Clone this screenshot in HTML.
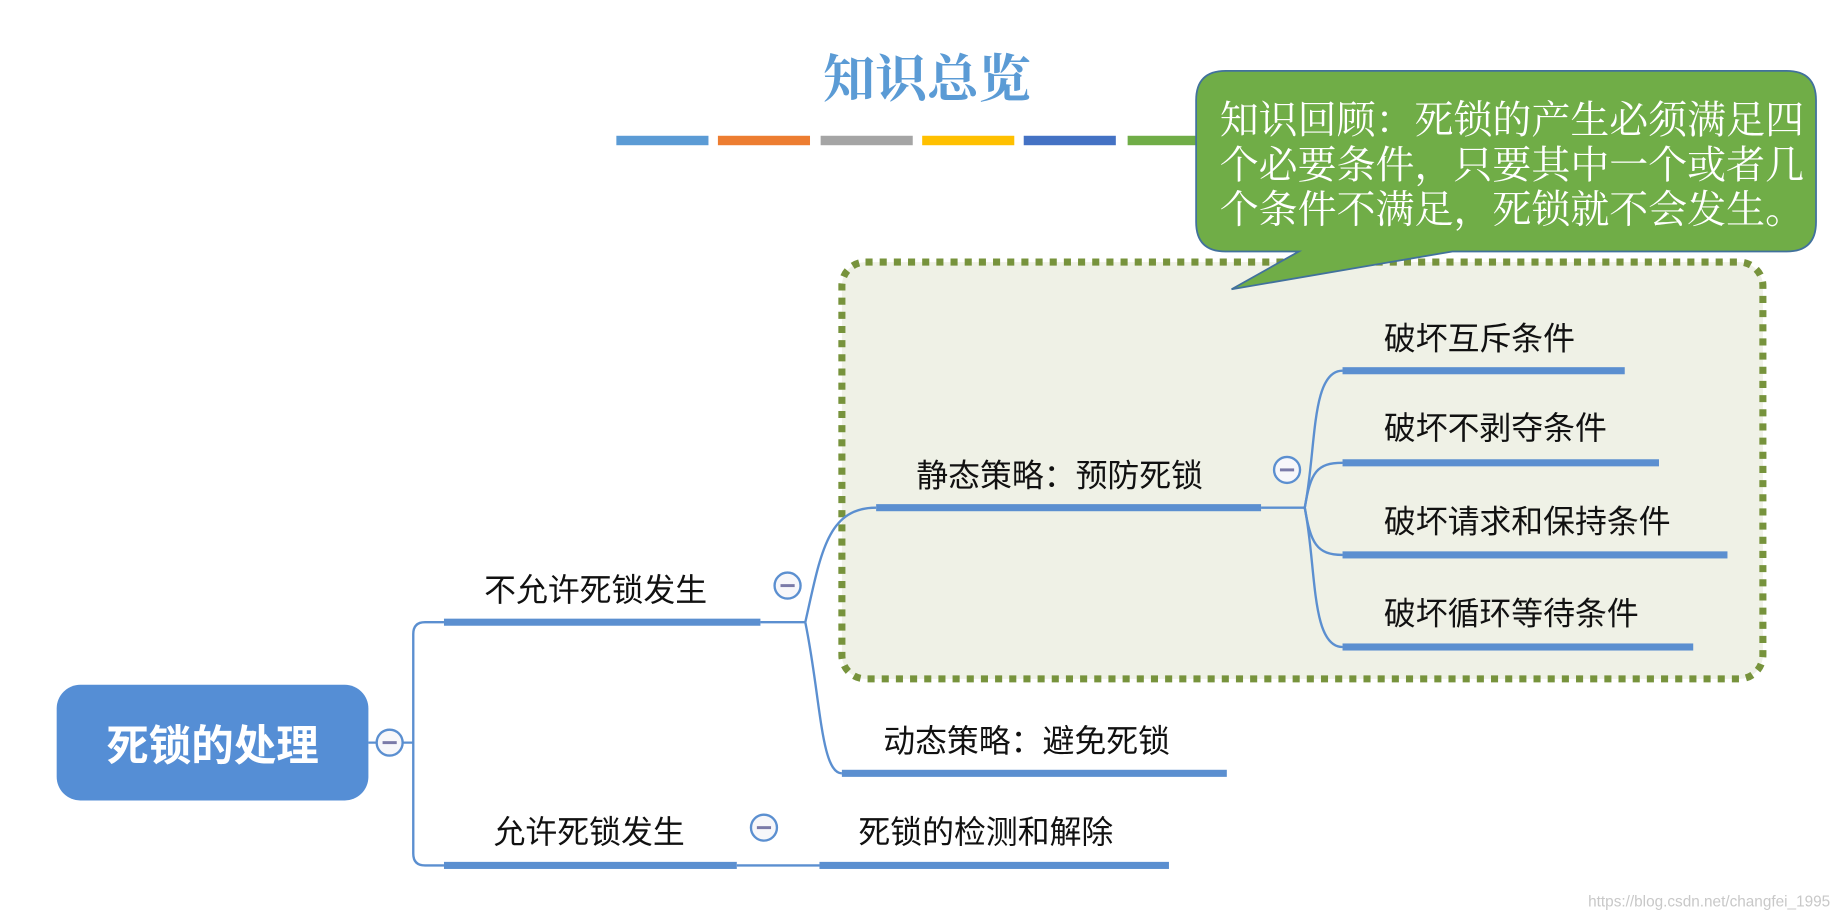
<!DOCTYPE html>
<html><head><meta charset="utf-8"><style>
html,body{margin:0;padding:0;background:#fff;width:1842px;height:915px;overflow:hidden}
svg{display:block}
.t{font-family:"Liberation Sans","Noto Sans CJK SC",sans-serif;font-size:27px;fill:#111}
.s{font-family:"Liberation Serif","Noto Serif CJK SC",serif}
</style></head><body>
<svg width="1842" height="915" viewBox="0 0 1560 775" preserveAspectRatio="none" xmlns="http://www.w3.org/2000/svg">
<text x="785" y="82" text-anchor="middle" class="s" font-size="44" font-weight="bold" fill="#5b9bd5">知识总览</text>
<g>
<rect x="522" y="115" width="78" height="8" fill="#5b9bd5"/>
<rect x="608" y="115" width="78" height="8" fill="#ed7d31"/>
<rect x="695" y="115" width="78" height="8" fill="#a5a5a5"/>
<rect x="781" y="115" width="78" height="8" fill="#ffc000"/>
<rect x="867" y="115" width="78" height="8" fill="#4472c4"/>
<rect x="955" y="115" width="70" height="8" fill="#70ad47"/>
</g>
<rect x="713" y="222" width="780" height="353" rx="20" fill="#eff1e6" stroke="#77933c" stroke-width="6" stroke-dasharray="6 6"/>
<path d="M1038,60 H1513 Q1538,60 1538,85 V188 Q1538,213 1513,213 H1230 L1043,245 L1100,213 H1038 Q1013,213 1013,188 V85 Q1013,60 1038,60 Z" fill="#70ad47" stroke="#41719c" stroke-width="1.5"/>
<g class="s" font-size="33" fill="#fff">
<text x="1033" y="113">知识回顾：死锁的产生必须满足四</text>
<text x="1033" y="151">个必要条件，只要其中一个或者几</text>
<text x="1033" y="189">个条件不满足，死锁就不会发生。</text>
</g>
<g fill="none" stroke="#5b8fd0" stroke-width="2">
<path d="M312,629 H350"/>
<path d="M376,527 H360 Q350,527 350,537 V723 Q350,733 360,733 H376"/>
<path d="M644,527 H682"/>
<path d="M682,527 C695,470 700,430 742,430"/>
<path d="M682,527 C695,590 695,655 713,655"/>
<path d="M1068,430 H1105"/>
<path d="M1105,430 C1115,380 1110,314 1137,314"/>
<path d="M1105,430 C1110,400 1115,392 1137,392"/>
<path d="M1105,430 C1110,460 1115,470 1137,470"/>
<path d="M1105,430 C1115,480 1110,548 1137,548"/>
<path d="M624,733 H694"/>
</g>
<g fill="#5b8fd0">
<rect x="376" y="524" width="268" height="6"/>
<rect x="742" y="427" width="326" height="6"/>
<rect x="1137" y="311" width="239" height="6"/>
<rect x="1137" y="389" width="268" height="6"/>
<rect x="1137" y="467" width="326" height="6"/>
<rect x="1137" y="545" width="297" height="6"/>
<rect x="713" y="652" width="326" height="6"/>
<rect x="376" y="730" width="248" height="6"/>
<rect x="694" y="730" width="296" height="6"/>
</g>
<rect x="48" y="580" width="264" height="98" rx="20" fill="#558ed5"/>
<text x="180" y="644" text-anchor="middle" font-family="Liberation Sans,Noto Sans CJK SC,sans-serif" font-size="36" font-weight="bold" fill="#fff">死锁的处理</text>
<g fill="#f7f7fa" stroke="#5b8fd0" stroke-width="2">
<circle cx="330" cy="629" r="11"/><circle cx="667" cy="496" r="11"/><circle cx="1090" cy="398" r="11"/><circle cx="647" cy="701" r="11"/>
</g>
<g stroke="#7a7aa8" stroke-width="2.5">
<path d="M324,629 H336"/><path d="M661,496 H673"/><path d="M1084,398 H1096"/><path d="M641,701 H653"/>
</g>
<text x="410" y="509" class="t">不允许死锁发生</text>
<text x="776" y="412" class="t">静态策略：预防死锁</text>
<text x="1172" y="296" class="t">破坏互斥条件</text>
<text x="1172" y="372" class="t">破坏不剥夺条件</text>
<text x="1172" y="451" class="t">破坏请求和保持条件</text>
<text x="1172" y="529" class="t">破坏循环等待条件</text>
<text x="748" y="637" class="t">动态策略：避免死锁</text>
<text x="418" y="714" class="t">允许死锁发生</text>
<text x="727" y="714" class="t">死锁的检测和解除</text>
<text x="1345" y="768" font-family="Liberation Sans,sans-serif" font-size="13" fill="#c8c8c8">https://blog.csdn.net/changfei_1995</text>
</svg>
</body></html>
